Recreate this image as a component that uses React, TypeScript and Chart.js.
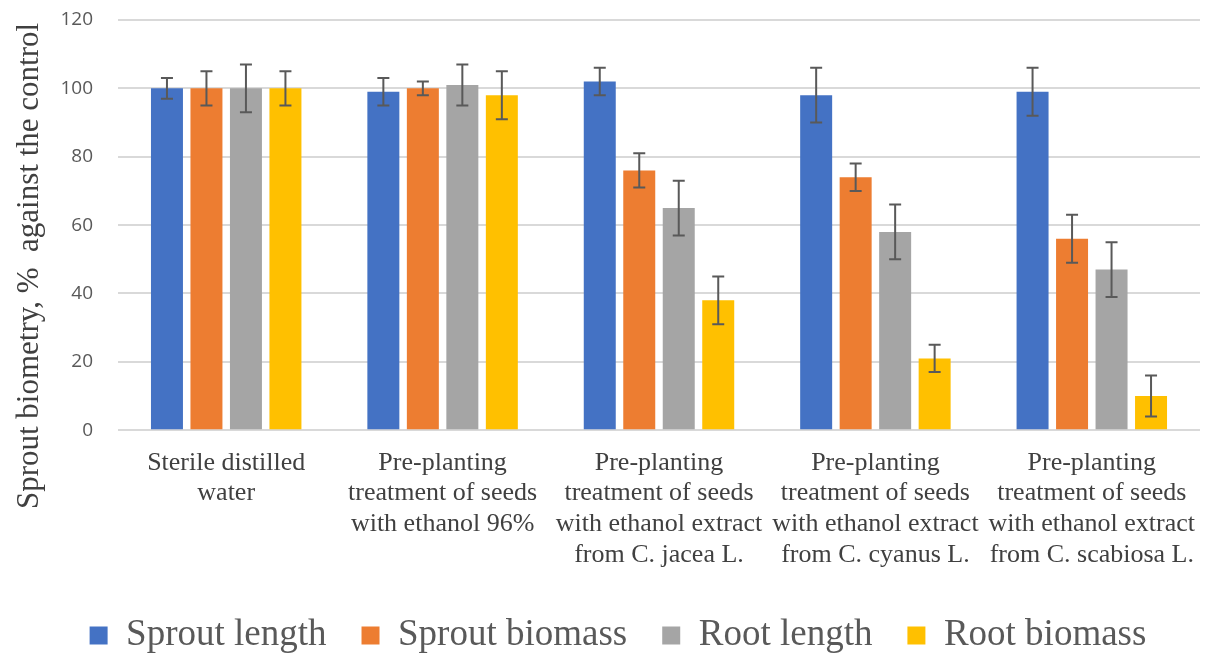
import React, { useEffect, useRef } from "react";
import { Chart, registerables } from "chart.js";

Chart.register(...registerables);

const categories: string[][] = [
  ["Sterile distilled", "water"],
  ["Pre-planting", "treatment of seeds", "with ethanol 96%"],
  ["Pre-planting", "treatment of seeds", "with ethanol extract", "from C. jacea L."],
  ["Pre-planting", "treatment of seeds", "with ethanol extract", "from C. cyanus L."],
  ["Pre-planting", "treatment of seeds", "with ethanol extract", "from C. scabiosa L."],
];

const sproutLength = [100, 99, 102, 98, 99];
const sproutBiomass = [100, 100, 76, 74, 56];
const rootLength = [100, 101, 65, 58, 47];
const rootBiomass = [100, 98, 38, 21, 10];

const sproutLengthErr = [3, 4, 4, 8, 7];
const sproutBiomassErr = [5, 2, 5, 4, 7];
const rootLengthErr = [7, 6, 8, 8, 8];
const rootBiomassErr = [5, 7, 7, 4, 6];

const yTicks = [0, 20, 40, 60, 80, 100, 120];
const yTitle = "Sprout biometry, %  against the control";

const errorBarPlugin = {
  id: "errorBars",
  afterDatasetsDraw(chart: any) {
    const ctx = chart.ctx;
    const yScale = chart.scales.y;
    chart.data.datasets.forEach((ds: any, di: number) => {
      const meta = chart.getDatasetMeta(di);
      const errs: number[] = ds.errors || [];
      meta.data.forEach((el: any, i: number) => {
        const v = ds.data[i];
        const e = errs[i];
        if (e == null) return;
        const x = el.x;
        const yt = yScale.getPixelForValue(v + e);
        const yb = yScale.getPixelForValue(v - e);
        ctx.save();
        ctx.strokeStyle = "#595959";
        ctx.lineWidth = 2;
        ctx.beginPath();
        ctx.moveTo(x, yt);
        ctx.lineTo(x, yb);
        ctx.moveTo(x - 6, yt);
        ctx.lineTo(x + 6, yt);
        ctx.moveTo(x - 6, yb);
        ctx.lineTo(x + 6, yb);
        ctx.stroke();
        ctx.restore();
      });
    });
  },
};

const yTitlePlugin = {
  id: "yTitle",
  afterDraw(chart: any) {
    const ctx = chart.ctx;
    ctx.save();
    ctx.translate(30, 266);
    ctx.rotate(-Math.PI / 2);
    ctx.fillStyle = "#404040";
    ctx.font = "31px 'Liberation Serif'";
    ctx.textAlign = "center";
    ctx.textBaseline = "middle";
    ctx.fillText(yTitle, 0, 0);
    ctx.restore();
  },
};

const LEFT_PAD = 36;

export default function App() {
  const ref = useRef<HTMLCanvasElement | null>(null);
  useEffect(() => {
    document.body.style.margin = "0";
    const mk = (label: string, data: number[], errors: number[], color: string) => ({
      label,
      data,
      errors,
      backgroundColor: color,
      borderWidth: 0,
      barPercentage: 0.81,
      categoryPercentage: 0.73,
    });
    const chart = new Chart(ref.current as HTMLCanvasElement, {
      type: "bar",
      data: {
        labels: categories,
        datasets: [
          mk("Sprout length", sproutLength, sproutLengthErr, "#4472C4"),
          mk("Sprout biomass", sproutBiomass, sproutBiomassErr, "#ED7D31"),
          mk("Root length", rootLength, rootLengthErr, "#A5A5A5"),
          mk("Root biomass", rootBiomass, rootBiomassErr, "#FFC000"),
        ] as any,
      },
      options: {
        animation: false,
        responsive: false,
        maintainAspectRatio: false,
        layout: { padding: { top: 20, right: 8, left: LEFT_PAD, bottom: -10 } },
        plugins: {
          tooltip: { enabled: false },
          legend: {
            position: "bottom",
            labels: {
              boxWidth: 18,
              boxHeight: 18,
              padding: 35,
              color: "#595959",
              font: { family: "Liberation Serif", size: 37 },
            },
          },
        },
        scales: {
          x: {
            grid: { display: false },
            border: { display: false },
            ticks: {
              color: "#404040",
              font: { family: "Liberation Serif", size: 26, lineHeight: 1.19 },
              maxRotation: 0,
              autoSkip: false,
              padding: 9,
            },
            afterFit: (scale: any) => {
              scale.paddingLeft = 0;
              scale.paddingRight = 0;
              scale.height += 2;
            },
          },
          y: {
            min: 0,
            max: 120,
            afterBuildTicks: (scale: any) => {
              scale.ticks = yTicks.map((v) => ({ value: v }));
            },
            afterFit: (scale: any) => {
              scale.paddingTop = 0;
              scale.paddingBottom = 0;
              scale.width = 118 - LEFT_PAD;
            },
            grid: { color: "#d9d9d9", lineWidth: 2, drawTicks: false },
            border: { display: false },
            ticks: {
              color: "#595959",
              font: { family: "Open Sans", size: 19 },
              padding: 25,
            },
          },
        },
      },
      plugins: [errorBarPlugin, yTitlePlugin],
    });
    return () => chart.destroy();
  }, []);
  return (
    <div style={{ position: "absolute", left: 0, top: 0, width: 1208, height: 654 }}>
      <canvas ref={ref} width={1208} height={654} />
    </div>
  );
}
